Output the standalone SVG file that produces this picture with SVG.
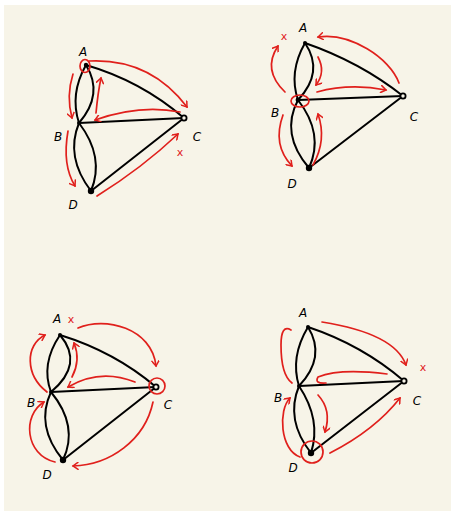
<svg xmlns="http://www.w3.org/2000/svg" width="455" height="515" viewBox="0 0 455 515">
<style>
.e{fill:none;stroke:#000;stroke-width:2;stroke-linecap:round}
.r{fill:none;stroke:#e0201c;stroke-width:1.7;stroke-linecap:round;stroke-linejoin:round}
.ra{fill:none;stroke:#e0201c;stroke-width:1.7;stroke-linecap:round;stroke-linejoin:round;marker-end:url(#ah)}
.lb{font-family:"DejaVu Sans",sans-serif;font-size:12px;font-style:italic;fill:#000;text-anchor:middle}
.x{font-family:"DejaVu Sans",sans-serif;font-size:11px;fill:#e0201c;text-anchor:middle}
.nf{fill:#000}
.no{fill:#f7f4e8;stroke:#000;stroke-width:1.8}
</style>
<defs>
<marker id="ah" viewBox="0 0 8 8" refX="6" refY="4" markerWidth="8" markerHeight="8" markerUnits="userSpaceOnUse" orient="auto">
<path d="M1,0.5 L6,4 L1,7.5" fill="none" stroke="#e0201c" stroke-width="1.5" stroke-linecap="round"/>
</marker>
</defs>
<rect width="455" height="515" fill="#fff"/>
<rect x="4" y="5" width="447" height="506" fill="#f7f4e8"/>

<g id="connectors">
<!-- graph 1 -->
<path class="e" d="M86,65 Q69.5,94 79,123"/>
<path class="e" d="M86,65 Q104,94 79,123"/>
<path class="e" d="M79,123 Q65,157 91,191"/>
<path class="e" d="M79,123 Q105,157 91,191"/>
<path class="e" d="M86,65 Q141,81 184,118"/>
<path class="e" d="M79,123 L184,118"/>
<path class="e" d="M91,191 L184,118"/>
<!-- graph 2 -->
<path class="e" d="M305,43 Q288.5,72 298,100"/>
<path class="e" d="M305,43 Q324.5,72 298,100"/>
<path class="e" d="M298,100 Q280,134 309,168"/>
<path class="e" d="M298,100 Q324.5,134 309,168"/>
<path class="e" d="M305,43 Q360,62 403,96"/>
<path class="e" d="M298,100 L403,96"/>
<path class="e" d="M309,168 L403,96"/>
<!-- graph 3 -->
<path class="e" d="M60,335 Q40.5,364 51,392"/>
<path class="e" d="M60,335 Q84.5,364 51,392"/>
<path class="e" d="M51,392 Q35,426 63,460"/>
<path class="e" d="M51,392 Q79,426 63,460"/>
<path class="e" d="M60,335 Q115,352 156,387"/>
<path class="e" d="M51,392 L156,387"/>
<path class="e" d="M63,460 L156,387"/>
<!-- graph 4 -->
<path class="e" d="M308,327 Q290,357 299,386"/>
<path class="e" d="M308,327 Q326.5,357 299,386"/>
<path class="e" d="M299,386 Q285,420 311,453"/>
<path class="e" d="M299,386 Q321.6,420 311,453"/>
<path class="e" d="M308,327 Q362,345 404,381"/>
<path class="e" d="M299,386 L404,381"/>
<path class="e" d="M311,453 L404,381"/>
</g>

<g id="g1-A"><circle class="nf" cx="86" cy="65" r="2.2"/><text class="lb" x="83" y="56">A</text></g>
<g id="g1-B"><circle class="nf" cx="79" cy="123" r="2"/><text class="lb" x="58" y="141">B</text></g>
<g id="g1-C"><circle class="no" cx="184" cy="118" r="2.6"/><text class="lb" x="197" y="141">C</text></g>
<g id="g1-D"><circle class="nf" cx="91" cy="191" r="3.2"/><text class="lb" x="73" y="209">D</text></g>

<g id="g2-A"><circle class="nf" cx="305" cy="43" r="2"/><text class="lb" x="303" y="32">A</text></g>
<g id="g2-B"><circle class="nf" cx="298" cy="100" r="2.4"/><text class="lb" x="275" y="117">B</text></g>
<g id="g2-C"><circle class="no" cx="403" cy="96" r="2.6"/><text class="lb" x="414" y="121">C</text></g>
<g id="g2-D"><circle class="nf" cx="309" cy="168" r="3.2"/><text class="lb" x="292" y="188">D</text></g>

<g id="g3-A"><circle class="nf" cx="60" cy="335" r="2"/><text class="lb" x="57" y="323">A</text></g>
<g id="g3-B"><circle class="nf" cx="51" cy="392" r="2"/><text class="lb" x="31" y="407">B</text></g>
<g id="g3-C"><circle class="no" cx="156" cy="387" r="2.6"/><text class="lb" x="168" y="409">C</text></g>
<g id="g3-D"><circle class="nf" cx="63" cy="460" r="3.2"/><text class="lb" x="47" y="479">D</text></g>

<g id="g4-A"><circle class="nf" cx="308" cy="327" r="2"/><text class="lb" x="303" y="317">A</text></g>
<g id="g4-B"><circle class="nf" cx="299" cy="386" r="2"/><text class="lb" x="278" y="402">B</text></g>
<g id="g4-C"><circle class="no" cx="404" cy="381" r="2.6"/><text class="lb" x="417" y="405">C</text></g>
<g id="g4-D"><circle class="nf" cx="311" cy="453" r="3.2"/><text class="lb" x="293" y="472">D</text></g>

<g id="annotations">
<!-- graph 1 -->
<ellipse class="r" cx="85" cy="66" rx="5" ry="6.5"/>
<path class="ra" d="M89,61 Q150,58 187,107"/>
<path class="ra" d="M73,74 Q66,96 72,118"/>
<path class="ra" d="M96,113 Q98,92 101,78"/>
<path class="ra" d="M180,112 Q140,104 95,120"/>
<path class="ra" d="M68,131 Q62,165 75,186"/>
<path class="ra" d="M97,196 Q142,168 178,134"/>
<text class="x" x="180" y="156">x</text>
<!-- graph 2 -->
<ellipse class="r" cx="300" cy="101" rx="9" ry="6"/>
<path class="ra" d="M285,92 Q262,70 278,46"/>
<text class="x" x="284" y="40">x</text>
<path class="ra" d="M318,57 Q326,72 316,85"/>
<path class="ra" d="M399,83 C390,58 350,32 318,37"/>
<path class="ra" d="M317,92 Q350,83 386,90"/>
<path class="ra" d="M283,115 Q272,145 292,166"/>
<path class="ra" d="M313,165 Q327,140 318,114"/>
<!-- graph 3 -->
<circle class="r" cx="157" cy="386" r="8"/>
<path class="ra" d="M78,328 C105,316 152,328 156,366"/>
<text class="x" x="71" y="323">x</text>
<path class="ra" d="M47,392 C25,375 25,345 45,335"/>
<path class="ra" d="M72,377 Q81,360 74,343"/>
<path class="ra" d="M135,382 Q100,368 68,387"/>
<path class="ra" d="M55,462 C25,455 22,415 44,402"/>
<path class="ra" d="M153,402 C145,440 110,465 73,466"/>
<!-- graph 4 -->
<circle class="r" cx="312" cy="452" r="11"/>
<path class="ra" d="M322,322 C360,328 397,340 406,365"/>
<text class="x" x="423" y="371">x</text>
<path class="r" d="M291,330 Q281,324 281,345 Q281,375 292,383"/>
<path class="r" d="M387,374 Q340,368 318,377 Q314,384 326,383"/>
<path class="ra" d="M300,457 C280,450 278,410 290,398"/>
<path class="ra" d="M318,395 Q332,410 325,432"/>
<path class="ra" d="M330,453 Q375,430 400,398"/>
</g>
</svg>
